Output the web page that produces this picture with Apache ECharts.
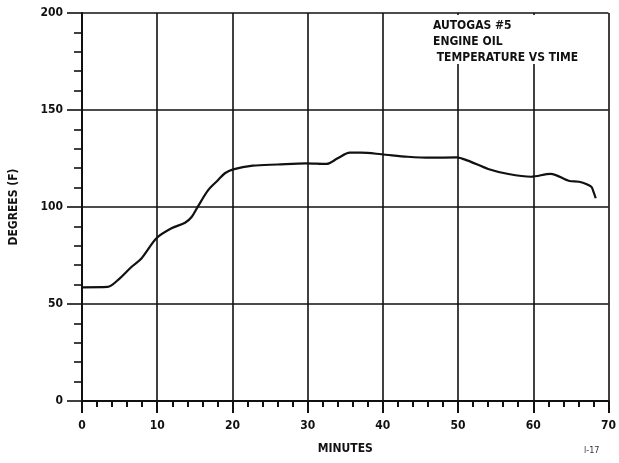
<!DOCTYPE html>
<html>
<head>
<meta charset="utf-8">
<script src="https://cdn.jsdelivr.net/npm/echarts@6/dist/echarts.min.js"></script>
<style>
html,body{margin:0;padding:0;background:#fff;}
#chart{width:619px;height:463px;}
</style>
</head>
<body>
<div id="chart"></div>
<script>
// Data
const minutes = [0, 3.4, 4.8, 6.6, 7.9, 9.9, 11.9, 13.7, 14.6, 15.4, 16.8, 18.1, 19.0, 20.1, 22.7, 26.0, 29.8, 32.5, 34.0, 35.6, 37.1, 39.8, 43.3, 46.4, 49.8, 51.3, 54.0, 56.7, 59.7, 62.3, 64.8, 66.1, 67.7, 68.0, 68.3];
const oilTemp = [58.6, 58.8, 62.4, 69.2, 73.5, 83.9, 89.0, 91.9, 95.0, 100.2, 108.8, 113.9, 117.4, 119.4, 121.3, 121.9, 122.5, 122.2, 125.1, 128.0, 128.0, 127.2, 125.9, 125.4, 125.6, 123.9, 119.6, 117.0, 115.6, 117.1, 113.4, 113.0, 110.5, 107.9, 104.5];
const xTicks = [0, 10, 20, 30, 40, 50, 60, 70];
const yTicks = [0, 50, 100, 150, 200];
const titleLines = ['AUTOGAS #5', 'ENGINE OIL', ' TEMPERATURE VS TIME'];
const xName = 'MINUTES';
const yName = 'DEGREES (F)';
const pageNote = 'l-17';

const FONT = '"Liberation Sans Narrow", "DejaVu Sans Condensed", "Liberation Sans", Arial, sans-serif';
const chart = echarts.init(document.getElementById('chart'));
const lbl = {color: '#111', fontWeight: 'bold', fontFamily: FONT, fontSize: 12};
chart.setOption({
  backgroundColor: '#fff',
  animation: false,
  grid: {left: 82, right: 10, top: 13, bottom: 62, containLabel: false},
  xAxis: {
    type: 'value', min: xTicks[0], max: xTicks[xTicks.length - 1], interval: 10,
    name: xName, nameLocation: 'middle', nameGap: 42,
    nameTextStyle: {color: '#111', fontWeight: 'bold', fontFamily: FONT, fontSize: 12},
    axisLine: {show: true, onZero: false, lineStyle: {color: '#111', width: 2}},
    axisTick: {show: true, length: 12, lineStyle: {color: '#111', width: 2}},
    minorTick: {show: true, splitNumber: 5, length: 6, lineStyle: {color: '#111', width: 2}},
    axisLabel: Object.assign({margin: 19}, lbl),
    splitLine: {show: true, lineStyle: {color: '#111', width: 1.6}}
  },
  yAxis: {
    type: 'value', min: yTicks[0], max: yTicks[yTicks.length - 1], interval: 50,
    name: yName, nameLocation: 'middle', nameGap: 62, nameRotate: 90,
    nameTextStyle: {color: '#111', fontWeight: 'bold', fontFamily: FONT, fontSize: 12},
    axisLine: {show: true, onZero: false, lineStyle: {color: '#111', width: 2}},
    axisTick: {show: true, length: 15, lineStyle: {color: '#111', width: 1.6}},
    minorTick: {show: true, splitNumber: 5, length: 8, lineStyle: {color: '#111', width: 1.6}},
    axisLabel: Object.assign({margin: 19}, lbl),
    splitLine: {show: true, lineStyle: {color: '#111', width: 1.6}}
  },
  graphic: [
    {type: 'rect', left: 431, top: 15, shape: {width: 140, height: 49}, style: {fill: '#fff'}, z: 10},
    {type: 'text', left: 433, top: 18, z: 11,
     style: {text: titleLines.join('\n'), fill: '#111', font: 'bold 12px ' + FONT, lineHeight: 16}},
    {type: 'text', left: 584, top: 446, z: 11,
     style: {text: pageNote, fill: '#333', font: '9px ' + FONT}}
  ],
  series: [{
    type: 'line',
    data: minutes.map((m, i) => [m, oilTemp[i]]),
    showSymbol: false, smooth: 0.3,
    lineStyle: {color: '#111', width: 2.2},
    z: 5
  }]
});
</script>
</body>
</html>
